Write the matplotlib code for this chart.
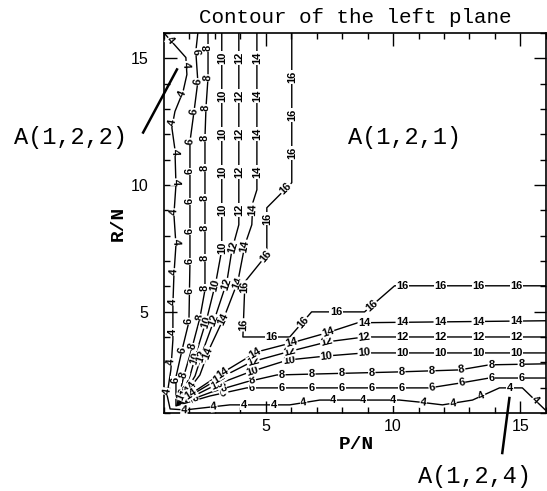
import numpy as np
import matplotlib
matplotlib.use("Agg")
import matplotlib.pyplot as plt
from matplotlib.ticker import MultipleLocator

# contour levels and the traced contour lines (P/N, R/N)
levels = [4, 6, 8, 10, 12, 14, 16]

c4_x = [1.0, 1.86, 1.90, 1.75, 1.43, 1.31, 1.43, 1.47, 1.39, 1.47, 1.39, 1.35, 1.35, 1.27,
        1.12, 1.24, 1.82, 3.59, 5.94, 7.12, 10.25, 11.04, 11.94, 13.12, 14.18, 15.08, 15.98]
c4_y = [16.0, 15.03, 14.36, 13.69, 12.90, 12.26, 11.40, 10.01, 8.83, 7.64, 6.45, 5.27, 3.89, 2.70,
        1.71, 1.16, 1.12, 1.32, 1.32, 1.51, 1.51, 1.43, 1.32, 1.51, 1.99, 1.99, 1.12]

c6_x = [2.33, 2.25, 2.33, 2.18, 2.02, 2.02, 2.02, 1.98, 1.71, 1.47, 1.47, 2.80, 4.25,
        11.43, 12.69, 13.78, 15.98]
c6_y = [16.0, 15.27, 14.08, 12.90, 11.71, 9.42, 6.93, 4.60, 3.49, 2.42, 1.28, 1.67, 1.99,
        1.99, 2.19, 2.38, 2.38]

c8_x = [2.73, 2.73, 2.65, 2.61, 2.61, 2.41, 2.10, 1.78, 1.51, 2.88, 4.25, 5.43, 10.18,
        12.61, 13.78, 15.98]
c8_y = [16.0, 14.24, 13.06, 11.87, 5.86, 4.75, 3.57, 2.46, 1.32, 1.83, 2.23, 2.50, 2.62,
        2.70, 2.90, 2.94]

c10_x = [3.27, 3.27, 3.04, 2.69, 2.33, 2.02, 1.55, 3.04, 4.37, 5.86, 7.39, 8.88, 15.98]
c10_y = [16.0, 7.44, 6.18, 4.75, 3.57, 2.46, 1.36, 2.11, 2.62, 3.09, 3.25, 3.37, 3.37]

c12_x = [3.94, 3.94, 3.67, 3.47, 3.00, 2.57, 2.22, 1.59, 3.20, 4.45, 5.86, 7.43, 8.88, 15.98]
c12_y = [16.0, 8.43, 7.44, 6.18, 4.75, 3.57, 2.46, 1.42, 2.38, 3.02, 3.41, 3.81, 4.00, 4.00]

c14_x = [4.65, 4.65, 4.49, 4.45, 4.18, 3.90, 3.35, 2.80, 2.41, 1.63, 3.35, 4.65, 6.02,
         7.39, 8.61, 15.98]
c14_y = [16.0, 9.81, 9.30, 8.43, 7.64, 6.18, 4.75, 3.57, 2.50, 1.47, 2.62, 3.41, 3.77,
         4.16, 4.56, 4.64]

c16_x = [6.02, 6.02, 5.04, 5.04, 4.18, 4.10, 5.94, 6.80, 8.88, 10.06, 15.98]
c16_y = [16.0, 10.09, 9.10, 7.25, 6.18, 4.00, 4.00, 4.99, 4.99, 6.02, 6.02]

contours = {4: (c4_x, c4_y), 6: (c6_x, c6_y), 8: (c8_x, c8_y), 10: (c10_x, c10_y),
            12: (c12_x, c12_y), 14: (c14_x, c14_y), 16: (c16_x, c16_y)}

# label spacing along each line: (gap px, offset from top end, offset from right end)
label_gaps = {4: (30, 10, 14), 6: (30, 19, 24), 8: (30, 15, 24), 10: (38, 25, 29),
              12: (38, 25, 29), 14: (38, 25, 29), 16: (38, 44, 29)}

MONO = "Liberation Mono"
SANS = "Liberation Sans"


def put_label(ax, pts, seg, seglen, cum, s, text):
    inv = ax.transData.inverted()
    i = int(np.clip(np.searchsorted(cum, s) - 1, 0, len(seg) - 1))
    t = (s - cum[i]) / seglen[i]
    p = pts[i] + t * seg[i]
    ang = np.degrees(np.arctan2(seg[i, 1], seg[i, 0]))
    if ang > 90:
        ang -= 180
    elif ang <= -90:
        ang += 180
    xd, yd = inv.transform(p)
    ax.text(xd, yd, text, rotation=ang, rotation_mode="anchor",
            ha="center", va="center", fontsize=8, fontfamily=SANS,
            fontweight="bold", zorder=3,
            bbox=dict(facecolor="white", edgecolor="none", pad=0.4))


def label_path(ax, xs, ys, text, gap, start, end):
    """Inline labels walking in from both ends of a polyline."""
    pts = ax.transData.transform(np.column_stack([xs, ys]))
    seg = np.diff(pts, axis=0)
    seglen = np.hypot(seg[:, 0], seg[:, 1])
    cum = np.concatenate([[0.0], np.cumsum(seglen)])
    total = cum[-1]
    fwd = list(np.arange(start, total / 2, gap))
    bwd = list(np.arange(total - end, total / 2, -gap))
    if fwd and bwd and bwd[-1] - fwd[-1] < 0.6 * gap:
        bwd.pop()
    for s in fwd + bwd:
        put_label(ax, pts, seg, seglen, cum, s, text)


fig = plt.figure(figsize=(5.47, 4.91), dpi=100)
ax = fig.add_axes([0.2998, 0.1589, 0.698, 0.774])
ax.set_xlim(1, 16)
ax.set_ylim(1, 16)

for lev in levels:
    xs, ys = contours[lev]
    ax.plot(xs, ys, color="black", lw=1.0, zorder=2)
    label_path(ax, xs, ys, str(lev), *label_gaps[lev])

ax.set_xticks([5, 10, 15])
ax.set_yticks([5, 10, 15])
ax.xaxis.set_minor_locator(MultipleLocator(1))
ax.yaxis.set_minor_locator(MultipleLocator(1))
ax.tick_params(which="both", direction="in", top=True, right=True, width=1.0)
ax.tick_params(which="major", length=9)
ax.tick_params(which="minor", length=4.5)
ax.tick_params(axis="x", pad=4)
ax.tick_params(axis="y", pad=11)
for lbl in ax.get_xticklabels() + ax.get_yticklabels():
    lbl.set_fontfamily(SANS)
    lbl.set_fontsize(11.5)
for sp in ax.spines.values():
    sp.set_linewidth(1.2)

ax.set_title("Contour of the left plane", fontfamily=MONO, fontsize=15, pad=7)
ax.set_xlabel("P/N", fontfamily=MONO, fontsize=14, fontweight="bold", va="center")
ax.set_ylabel("R/N", fontfamily=MONO, fontsize=14, fontweight="bold", va="center")
ax.xaxis.set_label_coords(0.505, -0.084)
ax.yaxis.set_label_coords(-0.12, 0.5)

# region annotations
ax.text(-2.69, 11.87, "A(1,2,2)", fontfamily=MONO, fontsize=17, ha="center", va="center")
ax.plot([0.18, 1.51], [12.07, 14.56], color="black", lw=1.8, clip_on=False)
ax.text(10.45, 11.87, "A(1,2,1)", fontfamily=MONO, fontsize=17, ha="center", va="center")
ax.text(13.2, -1.49, "A(1,2,4)", fontfamily=MONO, fontsize=17, ha="center", va="center")
ax.plot([14.29, 14.57], [-0.58, 1.59], color="black", lw=1.8, clip_on=False)

fig.savefig("out.png", dpi=100)
